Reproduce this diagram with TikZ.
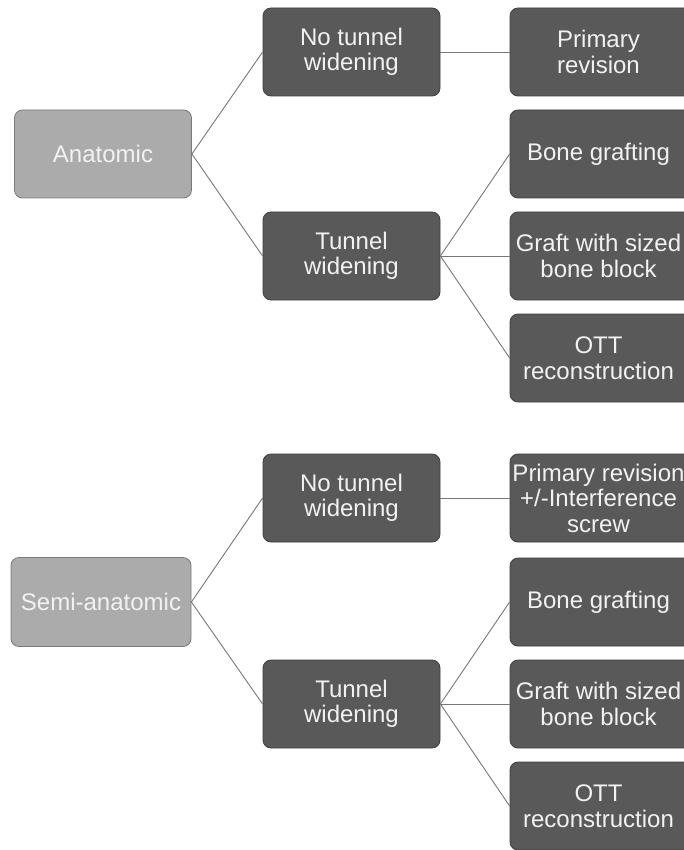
\documentclass[tikz,border=0pt]{standalone}
\usepackage{fontspec}
\setmainfont{Liberation Sans}
\definecolor{darkbox}{HTML}{595959}
\definecolor{darkborder}{HTML}{3F3F3F}
\definecolor{lightbox}{HTML}{ABABAB}
\definecolor{lightborder}{HTML}{7A7A7A}
\definecolor{linkc}{HTML}{777777}
\definecolor{txt}{HTML}{F2F2F2}
\begin{document}
\begin{tikzpicture}[x=1pt,y=-1pt,
  base/.style={rounded corners=8pt, minimum width=177pt, minimum height=88pt,
    inner sep=0pt, align=center, text=txt, line width=0.8pt,
    font=\fontsize{24}{25.5}\selectfont},
  darkn/.style={base, fill=darkbox, draw=darkborder},
  lightn/.style={base, fill=lightbox, draw=lightborder},
  rtext/.style={base},
  cutbox/.style={fill=darkbox, draw=darkborder, line width=0.8pt, rounded corners=8pt},
  link/.style={draw=linkc, line width=0.9pt}]
\useasboundingbox (0,0) rectangle (684,850);
\clip (0,0) rectangle (684,850);
% right column boxes, cut by the picture's right edge
\foreach \yc in {52,154,256,358,498,602,704,806}
  \filldraw[cutbox] (510,\yc-44) rectangle (700,\yc+44);
% top section
\node[lightn] (ana) at (103,154) {Anatomic};
\node[darkn] (ntw1) at (351.5,52) {No tunnel\\widening};
\node[darkn] (tw1) at (351.5,256) {Tunnel\\widening};
\node[rtext] (pr1) at (598.5,52) {Primary\\revision};
\node[rtext] (bg1) at (598.5,154) {Bone grafting};
\node[rtext] (gs1) at (598.5,256) {Graft with sized\\bone block};
\node[rtext] (ott1) at (598.5,358) {OTT\\reconstruction};
% bottom section
\node[lightn, minimum width=180pt, minimum height=89pt] (semi) at (101,602) {Semi-anatomic};
\node[darkn] (ntw2) at (351.5,498) {No tunnel\\widening};
\node[darkn] (tw2) at (351.5,704) {Tunnel\\widening};
\node[rtext] (pr2) at (598.5,498) {Primary revision\\+/-Interference\\screw};
\node[rtext] (bg2) at (598.5,602) {Bone grafting};
\node[rtext] (gs2) at (598.5,704) {Graft with sized\\bone block};
\node[rtext] (ott2) at (598.5,806) {OTT\\reconstruction};
% connectors
\draw[link] (ana.east) -- (ntw1.west);
\draw[link] (ana.east) -- (tw1.west);
\draw[link] (ntw1.east) -- (pr1.west);
\draw[link] (tw1.east) -- (bg1.west);
\draw[link] (tw1.east) -- (gs1.west);
\draw[link] (tw1.east) -- (ott1.west);
\draw[link] (semi.east) -- (ntw2.west);
\draw[link] (semi.east) -- (tw2.west);
\draw[link] (ntw2.east) -- (pr2.west);
\draw[link] (tw2.east) -- (bg2.west);
\draw[link] (tw2.east) -- (gs2.west);
\draw[link] (tw2.east) -- (ott2.west);
\end{tikzpicture}
\end{document}
